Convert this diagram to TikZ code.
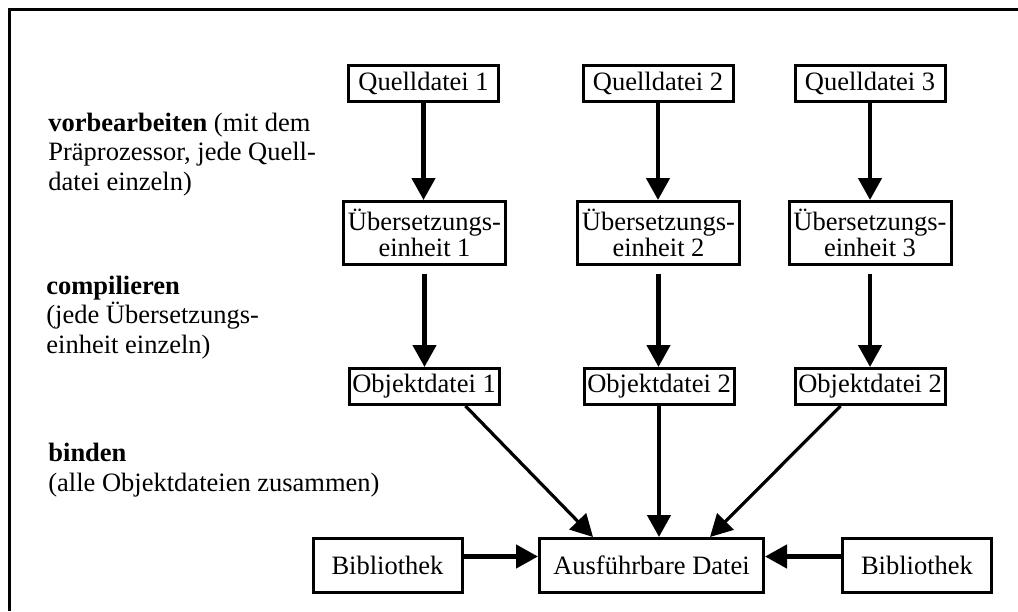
\documentclass[tikz,border=0pt]{standalone}
\usepackage{fontspec}
\setmainfont{Liberation Serif}
\usetikzlibrary{arrows.meta}

\begin{document}
\begin{tikzpicture}[x=0.5pt,y=-0.5pt,
  txt/.style={font=\fontsize{13.25}{14.75}\selectfont, inner sep=0pt},
  box/.style={draw, line width=1.5pt, inner sep=0pt,
    font=\fontsize{13.25}{11.5}\selectfont, align=center},
  smallbox/.style={box, minimum width=75pt, minimum height=18pt},
  unitbox/.style={box, minimum width=81pt, minimum height=31.5pt},
  libbox/.style={box, minimum width=74.5pt, minimum height=27pt},
  exebox/.style={box, minimum width=112pt, minimum height=27pt},
  label/.style={txt, align=left, anchor=base west},
  arr/.style={line width=2.25pt, -{Triangle[length=11pt,width=11.5pt]}},
  diag/.style={line width=1.6pt, -{Triangle[length=11pt,width=11.5pt]}}
]
\useasboundingbox (0,0) rectangle (1018,611);

% frame (top and left edges)
\draw[line width=1.5pt] (9.5,611) -- (9.5,9.5) -- (1018,9.5);

% source files
\node[smallbox] (q1) at (423.5,83.5) {Quelldatei 1};
\node[smallbox] (q2) at (658,83.5) {Quelldatei 2};
\node[smallbox] (q3) at (870,83.5) {Quelldatei 3};

% translation units
\node[unitbox] (u1) at (424.5,233) {Übersetzungs-\\einheit 1};
\node[unitbox] (u2) at (658.5,233) {Übersetzungs-\\einheit 2};
\node[unitbox] (u3) at (870,233) {Übersetzungs-\\einheit 3};

% object files
\node[smallbox] (o1) at (424,386.5) {Objektdatei 1};
\node[smallbox] (o2) at (659,386.5) {Objektdatei 2};
\node[smallbox] (o3) at (870,386.5) {Objektdatei 2};

% linking stage
\node[exebox] (exe) at (651.5,565.5) {Ausführbare Datei};
\node[libbox] (lib1) at (387.5,565.5) {Bibliothek};
\node[libbox] (lib2) at (917,565.5) {Bibliothek};

% step descriptions (anchored at the baseline of the last line)
\node[label] (s1) at (48,190) {\textbf{vorbearbeiten} (mit dem\\Präprozessor, jede Quell-\\datei einzeln)};
\node[label] (s2) at (46,353) {\textbf{compilieren}\\(jede Übersetzungs-\\einheit einzeln)};
\node[label] (s3) at (48,491) {\textbf{binden}\\(alle Objektdateien zusammen)};

% preprocessing
\foreach \i in {1,2,3}
  \draw[arr] (q\i.south) -- (q\i.south |- u\i.north);
% compiling
\foreach \i in {1,2,3}
  \draw[arr, shorten <=4pt] (u\i.south) -- (u\i.south |- o\i.north);
% linking
\draw[diag] ([xshift=-17.5pt]o1.south east) -- ([xshift=27.5pt]exe.north west);
\draw[arr] (o2.south) -- (o2.south |- exe.north);
\draw[diag] ([xshift=23.5pt]o3.south west) -- ([xshift=-27.5pt]exe.north east);
\draw[arr] ([yshift=4.5pt]lib1.east) -- ([yshift=4.5pt]exe.west);
\draw[arr] ([yshift=4.5pt]lib2.west) -- ([yshift=4.5pt]exe.east);
\end{tikzpicture}
\end{document}
